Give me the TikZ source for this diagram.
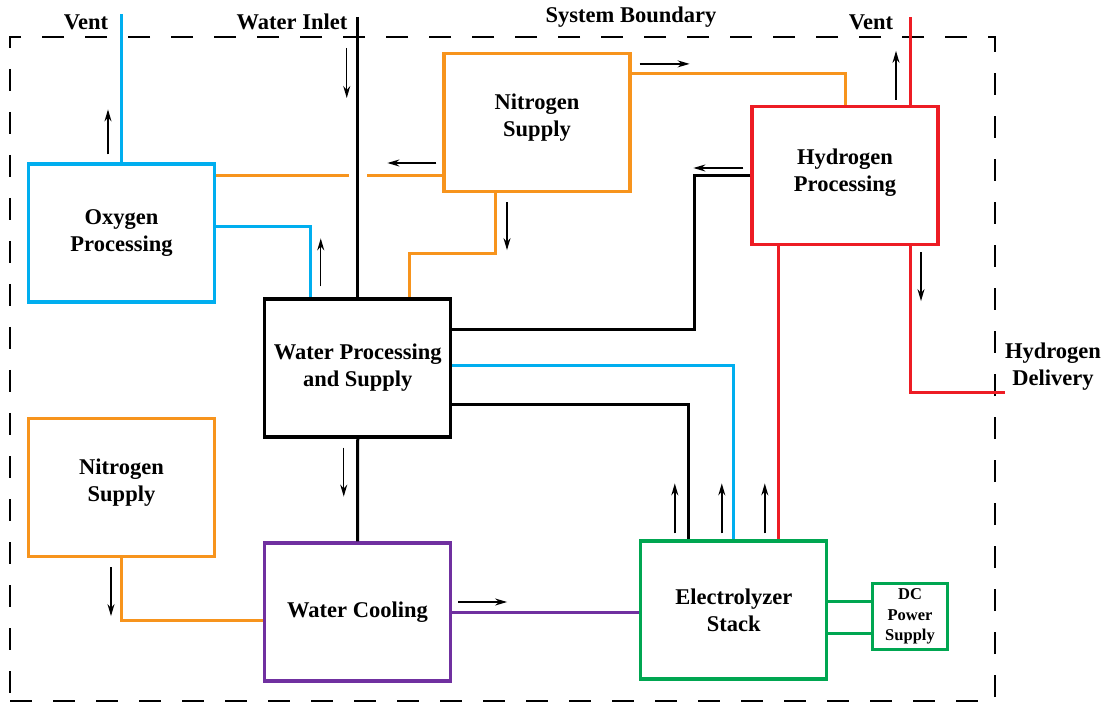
\documentclass[tikz,border=0pt]{standalone}
\usepackage{fontspec}
\setmainfont{Liberation Serif}
\usetikzlibrary{arrows.meta}
\definecolor{oxblue}{HTML}{00AEEF}
\definecolor{ntorange}{HTML}{F7941D}
\definecolor{hyred}{HTML}{ED1C24}
\definecolor{wcpurple}{HTML}{7030A0}
\definecolor{elgreen}{HTML}{00A651}

\begin{document}
\begin{tikzpicture}[x=1pt, y=-1pt,
  box/.style={draw, line width=3.2pt, minimum width=186pt, minimum height=138pt, inner sep=0pt, align=center, font=\bfseries\fontsize{22.5}{27}\selectfont},
  lbl/.style={align=center, inner sep=0pt, font=\bfseries\fontsize{22.5}{27}\selectfont},
  pipe/.style={line width=3pt},
  arr/.style={line width=1.4pt, -{Stealth[length=12pt,width=7pt]}},
  sysb/.style={draw, dash pattern=on 22pt off 21pt, line width=1.8pt, inner sep=0pt}]
\useasboundingbox (0,0) rectangle (1109,703);

\node[sysb, minimum width=985, minimum height=664] (sys) at (502.5,369) {};

\node[box, draw=oxblue] (ox) at (121.5,233) {Oxygen\\Processing};
\node[box, draw=ntorange, text depth=14pt] (nt) at (537,122.5) {Nitrogen\\Supply};
\node[box, draw=hyred, text depth=10pt] (hp) at (845,175.5) {Hydrogen\\Processing};
\node[box] (wp) at (357.75,368) {Water Processing\\and Supply};
\node[box, draw=ntorange, text depth=14pt] (nb) at (121.5,487.5) {Nitrogen\\Supply};
\node[box, draw=wcpurple] (wc) at (357.5,612) {Water Cooling};
\node[box, draw=elgreen] (el) at (733.8,610) {Electrolyzer\\Stack};
\node[box, draw=elgreen, minimum width=75, minimum height=66, line width=3pt, font=\bfseries\fontsize{16.5}{20.5}\selectfont] (dc) at (910,616.5) {DC\\Power\\Supply};

\node[lbl] (v1) at (86,22) {Vent};
\node[lbl] (wi) at (292,22) {Water Inlet};
\node[lbl] (sb) at (631,17) {System Boundary};
\node[lbl] (v2) at (871,22) {Vent};
\node[lbl] (hd) at (1053,367) {Hydrogen\\Delivery};

\coordinate (o1) at (121.5,14);
\coordinate (w1) at (357.75,17);
\coordinate (h1) at (910,17);
\coordinate (h2) at (1005,393);
\coordinate (n1) at ([yshift=-53.5]nt.west);
\coordinate (c1) at (n1 -| w1);
\coordinate (e1) at ([xshift=45]el.north);
\coordinate (d1) at ([yshift=15.5]dc.west);
\coordinate (d2) at ([yshift=-16.5]dc.west);

\draw[pipe, oxblue] (ox.north) -- (o1);
\draw[pipe] (w1) -- (wp.north);
\draw[pipe, ntorange] (n1) -- ([xshift=9]c1);
\draw[pipe, ntorange] ([xshift=-9]c1) -- (n1 -| ox.east);
\draw[pipe, ntorange] ([xshift=-42]nt.south) -- ++(0,60) -| ([xshift=52]wp.north);
\draw[pipe, oxblue] ([yshift=6]ox.east) -| ([xshift=-47]wp.north);
\draw[pipe, ntorange] ([yshift=48.5]nt.east) -| (hp.north);
\draw[pipe, hyred] ([xshift=65]hp.north) -- (h1);
\draw[pipe] (hp.west) -- ++(-56,0) |- ([yshift=38]wp.east);
\draw[pipe, oxblue] ([yshift=2]wp.east) -| (el.north);
\draw[pipe] ([yshift=-36]wp.east) -| ([xshift=-45]el.north);
\draw[pipe, hyred] (e1) -- (e1 |- hp.south);
\draw[pipe, hyred] ([xshift=65]hp.south) |- (h2);
\draw[pipe] (wp.south) -- (wc.north);
\draw[pipe, ntorange] (nb.south) |- ([yshift=-8]wc.west);
\draw[pipe, wcpurple] (wc.east) -- (wc.east -| el.west);
\draw[pipe, elgreen] (d1) -- (d1 -| el.east);
\draw[pipe, elgreen] (d2) -- (d2 -| el.east);

\draw[arr] (ox.north) ++(-13.5,-8) -- ++(0,-45);
\draw[arr] (w1) ++(-11,31) -- ++(0,50);
\draw[arr] (nt.west) ++(-6,40.5) -- ++(-49,0);
\draw[arr] (wp.north) ++(-37,-11) -- ++(0,-48);
\draw[arr] (nt.south) ++(-30,9) -- ++(0,48);
\draw[arr] (nt.north east) ++(8,12) -- ++(50,0);
\draw[arr] (hp.north) ++(51,-5) -- ++(0,-49);
\draw[arr] (hp.west) ++(-7,-7.5) -- ++(-50,0);
\draw[arr] (hp.south) ++(76,6) -- ++(0,49);
\draw[arr] (wp.south) ++(-14,9) -- ++(0,49);
\draw[arr] (nb.south) ++(-10.5,9) -- ++(0,49);
\draw[arr] (wc.east) ++(6,-10) -- ++(49,0);
\foreach \dx in {-59,-12,31} \draw[arr] (el.north) ++(\dx,-6) -- ++(0,-50);
\end{tikzpicture}
\end{document}
